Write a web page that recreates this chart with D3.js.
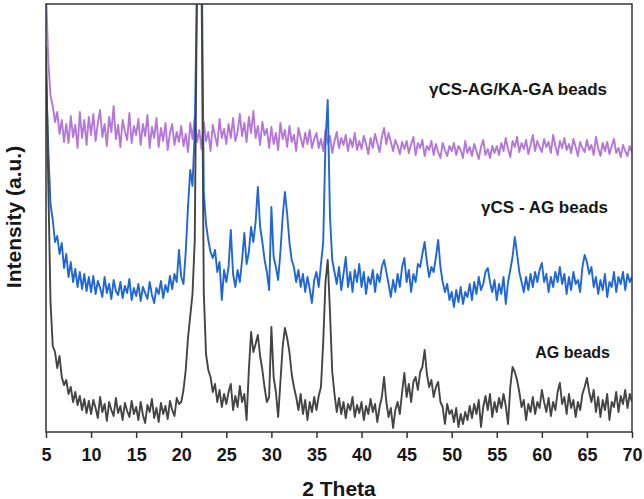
<!DOCTYPE html>
<html>
<head>
<meta charset="utf-8">
<script src="https://cdn.jsdelivr.net/npm/d3@7"></script>
<style>
body { margin: 0; background: #fff; }
svg { display: block; }
text { font-family: "Liberation Sans", Arial, sans-serif; font-weight: bold; fill: #161616; }
</style>
</head>
<body>
<div id="chart"></div>
<script>
// 2 theta sampling: 5 to 70 deg, every 0.25 deg
const thetaStart = 5, thetaEnd = 70, thetaStep = 0.25
const xTicks = [5, 10, 15, 20, 25, 30, 35, 40, 45, 50, 55, 60, 65, 70]

// intensities (a.u., curves already offset as in the figure)
const kaGaBeads = [
  440,372,336,326,310,320,298,312,290,308,289,316,295,307,284,320,294,312,287,315,
  297,318,291,309,322,295,308,286,315,300,326,293,307,285,312,301,292,319,289,306,
  297,313,287,308,296,317,284,305,294,314,285,304,291,309,282,299,308,287,300,290,
  306,286,298,280,309,293,315,290,302,283,310,291,300,281,307,296,286,313,294,303,
  288,308,294,314,291,300,318,296,309,290,315,299,321,294,306,287,310,297,303,284,
  305,288,299,282,309,293,302,285,306,290,297,281,304,294,285,299,288,302,284,293,
  299,284,293,281,302,288,296,279,291,300,284,294,287,297,281,293,285,299,282,291,
  283,296,288,278,294,284,298,289,280,295,304,288,299,290,281,292,286,278,290,283,
  291,279,288,295,277,289,284,292,276,286,282,291,277,288,280,274,289,282,276,286,
  281,289,277,286,282,274,291,279,285,276,288,281,273,285,292,277,283,274,286,279,
  286,277,289,281,294,283,275,291,285,295,280,289,283,292,278,287,297,281,291,285,
  280,293,285,290,279,297,286,277,291,284,294,282,288,279,293,285,276,290,284,280,
  292,282,287,277,295,284,276,289,281,290,278,286,293,279,284,275,287,281,276,286,
  280]

const csAgBeads = [
  362,284,228,212,190,196,178,189,164,178,155,170,150,163,145,160,143,158,141,155,
  140,156,138,151,144,135,155,139,148,133,152,141,137,150,134,146,139,153,132,144,
  136,148,131,145,139,133,150,137,129,144,138,151,134,147,140,156,143,158,150,182,
  155,148,180,225,262,246,300,445,720,500,240,208,192,180,174,182,160,170,132,162,
  150,165,202,158,145,162,150,172,199,168,180,205,190,210,245,205,190,172,160,142,
  225,175,165,152,180,215,240,218,190,172,165,150,162,145,158,140,155,143,129,152,
  160,145,168,190,290,332,215,172,160,148,165,142,158,175,145,160,140,162,150,168,
  145,160,138,155,148,162,140,158,150,165,172,160,148,135,152,140,158,145,165,174,
  150,162,140,158,150,168,165,178,190,170,155,165,160,175,192,165,150,140,148,132,
  140,125,142,130,145,128,140,135,148,132,150,138,155,142,148,160,164,150,140,152,
  132,148,138,155,128,150,162,175,195,178,160,150,140,155,142,158,145,160,150,162,
  169,150,158,140,155,145,160,150,165,148,158,138,155,142,160,148,152,140,165,177,
  170,158,165,145,155,138,152,142,158,135,150,145,160,140,155,148,160,142,158,150,
  155]

const agBeads = [
  385,250,130,86,80,64,76,55,47,52,38,45,30,40,27,36,22,33,19,31,
  18,32,24,14,35,20,28,11,30,22,16,34,19,26,12,29,21,15,31,18,
  25,12,30,17,9,27,20,33,14,24,10,29,18,26,13,31,22,16,34,28,
  30,42,62,94,116,138,192,450,700,460,140,78,62,55,40,48,30,42,25,38,
  28,40,48,22,36,25,46,30,38,12,62,100,80,88,97,76,62,44,30,35,
  105,55,40,15,50,85,104,94,80,58,45,35,22,38,18,32,12,30,20,35,
  22,36,45,90,150,172,120,60,38,20,34,18,30,14,28,22,35,15,27,19,
  30,12,26,18,33,20,28,10,25,35,55,30,15,24,4,22,30,18,40,59,
  35,48,30,50,55,42,60,65,82,58,45,52,35,45,50,30,25,8,28,18,
  22,10,24,5,18,8,20,12,26,14,28,18,32,5,25,36,22,38,15,30,
  20,34,24,38,26,8,45,65,60,52,40,25,32,12,28,20,35,18,30,24,
  42,30,20,34,16,30,22,40,49,28,35,18,38,24,32,15,30,22,38,45,
  54,40,30,42,20,35,15,32,22,38,12,30,25,40,20,36,28,42,24,38,
  30]

const seriesNames = ["γCS-AG/KA-GA beads", "γCS - AG beads", "AG beads"]
const seriesColors = ["#b476da", "#1f66d6", "#444444"]

const width = 644, height = 499
const margin = {top: 4, right: 12, bottom: 67, left: 46}
const plotW = width - margin.left - margin.right
const plotH = height - margin.top - margin.bottom

const theta = d3.range(thetaStart, thetaEnd + thetaStep / 2, thetaStep)

const svg = d3.select("#chart").append("svg")
    .attr("width", width)
    .attr("height", height)

const x = d3.scaleLinear().domain([thetaStart, thetaEnd]).range([margin.left, margin.left + plotW])
const y = d3.scaleLinear().domain([0, plotH]).range([margin.top + plotH, margin.top])

svg.append("defs").append("clipPath").attr("id", "plotClip")
    .append("rect")
    .attr("x", margin.left).attr("y", margin.top)
    .attr("width", plotW).attr("height", plotH)

const line = d3.line()
    .x((d, i) => x(theta[i]))
    .y(d => y(d))

const curves = svg.append("g").attr("clip-path", "url(#plotClip)")
;[kaGaBeads, csAgBeads, agBeads].forEach((vals, k) => {
    curves.append("path")
        .datum(vals)
        .attr("d", line)
        .attr("fill", "none")
        .attr("stroke", seriesColors[k])
        .attr("stroke-width", 1.9)
        .attr("stroke-linejoin", "round")
})

// frame
svg.append("rect")
    .attr("x", margin.left).attr("y", margin.top)
    .attr("width", plotW).attr("height", plotH)
    .attr("fill", "none")
    .attr("stroke", "#333")
    .attr("stroke-width", 1.5)

const xAxis = svg.append("g")
    .attr("transform", "translate(0," + (margin.top + plotH) + ")")
    .call(d3.axisBottom(x).tickValues(xTicks).tickSize(6).tickPadding(10))
xAxis.select(".domain").remove()
xAxis.selectAll(".tick line").attr("stroke", "#333").attr("stroke-width", 1.5)
xAxis.selectAll(".tick text")
    .attr("font-size", "18px")
    .attr("font-family", "Liberation Sans, Arial, sans-serif")
    .attr("font-weight", "bold")
    .attr("fill", "#161616")

svg.append("text")
    .attr("x", margin.left + plotW / 2).attr("y", 496)
    .attr("text-anchor", "middle")
    .attr("font-size", "21px")
    .text("2 Theta")

svg.append("text")
    .attr("transform", "translate(21," + 217 + ") rotate(-90)")
    .attr("text-anchor", "middle")
    .attr("font-size", "21px")
    .text("Intensity (a.u.)")

// curve labels
const labelPos = [[607, 95, 17], [608, 213, 17], [610, 358, 16]]
seriesNames.forEach((name, k) => {
    svg.append("text")
        .attr("x", labelPos[k][0]).attr("y", labelPos[k][1])
        .attr("text-anchor", "end")
        .attr("font-size", labelPos[k][2] + "px")
        .text(name)
})
</script>
</body>
</html>
